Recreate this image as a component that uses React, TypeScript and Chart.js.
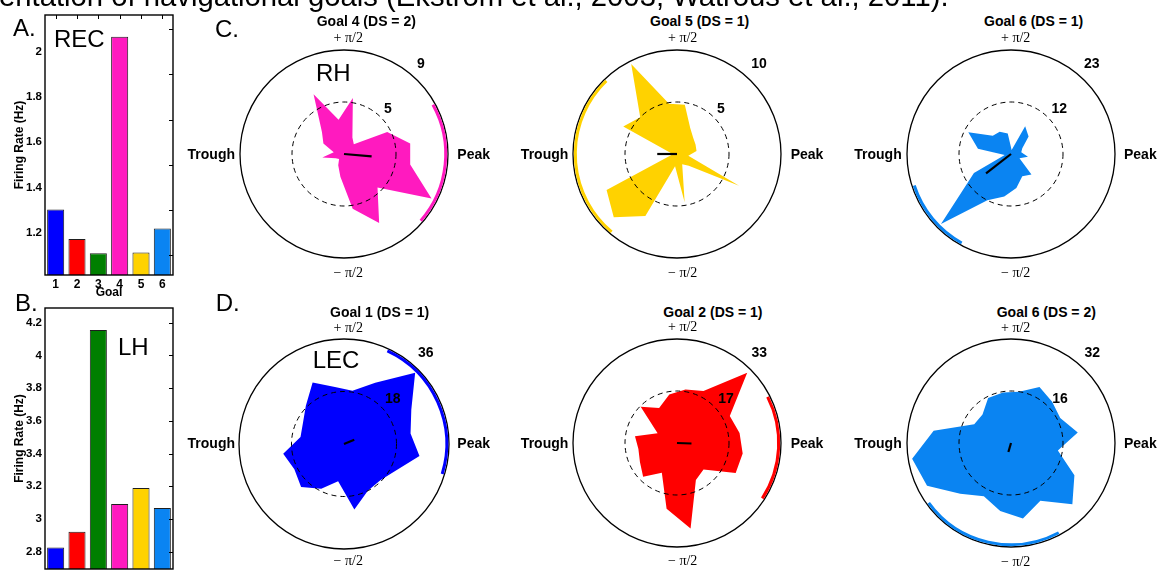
import React, { useEffect, useRef } from "react";
import { Chart, registerables } from "chart.js";

Chart.register(...registerables);

// ---- Bar panels: mean firing rate per goal ----
const goals = ["1", "2", "3", "4", "5", "6"];
const goalColors = ["#0000ff", "#ff0000", "#007f00", "#ff1abf", "#ffd200", "#0a84f2"];
const recRates = [1.303, 1.172, 1.109, 2.066, 1.112, 1.218];
const lhRates = [2.826, 2.922, 4.155, 3.091, 3.189, 3.067];
const recTicks = [1.2, 1.4, 1.6, 1.8, 2.0];
const recRightTicks = [1.1, 1.3, 1.5, 1.7, 1.9, 2.1];
const lhTicks = [2.8, 3.0, 3.2, 3.4, 3.6, 3.8, 4.0, 4.2];

// ---- Phase roses: spike counts per theta-phase bin (bin centres, degrees) ----
const phaseBins = [9, 27, 45, 63, 81, 99, 117, 135, 153, 171, 189, 207, 225, 243, 261, 279, 297, 315, 333, 351];
const rhGoal4 = [5.8, 4.2, 1.2, 1.6, 4.9, 3.0, 5.8, 2.7, 2.0, 0.9, 1.9, 0.8, 0.6, 1.1, 2.0, 4.8, 6.7, 4.1, 8.5, 5.8];
const rhGoal5 = [1.9, 2.0, 2.2, 2.8, 4.8, 4.9, 9.7, 5.0, 5.8, 0.6, 0.5, 7.6, 8.6, 6.7, 1.2, 4.7, 1.1, 1.6, 6.7, 1.1];
const rhGoal6 = [2.3, 2.8, 5.5, 6.9, 0.9, 4.6, 5.5, 5.7, 10.6, 7.4, 1.4, 9.2, 21.9, 11.5, 9.5, 7.6, 5.5, 6.4, 2.1, 3.8];
const lecGoal1 = [23.1, 25.9, 34.5, 23.6, 18.5, 19.8, 23.7, 18.5, 15.8, 15.1, 21.1, 19.1, 20.8, 17.2, 12.9, 22.7, 18.0, 17.6, 20.0, 26.2];
const lecGoal2 = [20.1, 18.8, 31.5, 18.5, 17.2, 15.6, 12.5, 16.3, 6.9, 13.5, 12.4, 13.2, 15.2, 10.6, 21.1, 27.5, 13.2, 11.9, 20.9, 21.1];
const lecGoal6 = [20.8, 17.0, 17.9, 19.3, 16.0, 15.7, 15.5, 12.4, 12.7, 24.1, 30.8, 29.0, 22.1, 18.4, 21.2, 23.5, 19.9, 26.7, 21.9, 14.6];
const roseMax = [9, 10, 23, 36, 33, 32];
const meanPhaseDeg = [-5, 180, 218, 22, -2, 254];
const meanLength = [2.4, 1.9, 7.0, 3.8, 4.6, 2.9];
const sigArcStart = [-41, 134, 198, -17, -33, 216];
const sigArcEnd = [29, 230, 241, 65, 27, 298];

const SANS = '"Liberation Sans", Arial, Helvetica, sans-serif';
const SERIF = '"Liberation Serif", "Times New Roman", serif';
const DEG = Math.PI / 180;

const framePlugin = {
  id: "frame",
  afterDraw(chart: any, _args: any, opts: any) {
    const { ctx, chartArea: a } = chart;
    const y = chart.scales.y;
    const x = chart.scales.x;
    ctx.save();
    ctx.strokeStyle = "#000";
    ctx.lineWidth = 1.4;
    ctx.strokeRect(a.left, a.top, a.right - a.left, a.bottom - a.top);
    ctx.lineWidth = 1;
    ctx.beginPath();
    (opts.right || []).forEach((v: number) => {
      const py = Math.round(y.getPixelForValue(v)) + 0.5;
      ctx.moveTo(a.right, py);
      ctx.lineTo(a.right - 4, py);
    });
    if (opts.top) {
      chart.data.labels.forEach((_l: string, i: number) => {
        const px = Math.round(x.getPixelForValue(i)) + 0.5;
        ctx.moveTo(px, a.top);
        ctx.lineTo(px, a.top + 4);
      });
    }
    ctx.stroke();
    ctx.restore();
  },
};

const rosePlugin = {
  id: "rose",
  afterDatasetsDraw(chart: any, _args: any, o: any) {
    const { ctx } = chart;
    const r = chart.scales.r;
    const cx = r.xCenter;
    const cy = r.yCenter;
    const R = r.getDistanceFromCenterForValue(r.max);
    ctx.save();
    ctx.strokeStyle = "#000";
    ctx.lineWidth = 1;
    ctx.setLineDash([5, 4]);
    ctx.beginPath();
    ctx.arc(cx, cy, r.getDistanceFromCenterForValue(r.max / 2), 0, Math.PI * 2);
    ctx.stroke();
    ctx.setLineDash([]);
    ctx.lineWidth = 1.3;
    ctx.beginPath();
    ctx.arc(cx, cy, R, 0, Math.PI * 2);
    ctx.stroke();
    ctx.strokeStyle = o.color;
    ctx.lineWidth = 3;
    ctx.beginPath();
    ctx.arc(cx, cy, R - 2.3, -o.arcEnd * DEG, -o.arcStart * DEG);
    ctx.stroke();
    const len = r.getDistanceFromCenterForValue(o.meanLen);
    const ang = -o.meanDeg * DEG;
    ctx.strokeStyle = "#000";
    ctx.lineWidth = 2.2;
    ctx.beginPath();
    ctx.moveTo(cx, cy);
    ctx.lineTo(cx + len * Math.cos(ang), cy + len * Math.sin(ang));
    ctx.stroke();
    ctx.restore();
  },
};

const tickText = (v: number) => String(Number(v.toFixed(2)));

function RateBars(props: {
  left: number; top: number; width: number; height: number; padTop: number; plotBottom: number;
  values: number[]; min: number; max: number; ticks: number[]; rightTicks: number[]; topTicks: boolean;
}) {
  const ref = useRef<HTMLCanvasElement>(null);
  useEffect(() => {
    const p = props;
    const chart = new Chart(ref.current as HTMLCanvasElement, {
      type: "bar",
      data: {
        labels: goals,
        datasets: [{
          data: p.values,
          backgroundColor: goalColors,
          borderColor: "#1e1e1e",
          borderWidth: 1,
          barPercentage: 0.8,
          categoryPercentage: 1,
        }],
      },
      options: {
        responsive: false,
        animation: false,
        devicePixelRatio: 1,
        layout: { padding: { top: p.padTop, right: p.width - 173, left: 0, bottom: 0 } },
        plugins: {
          legend: { display: false },
          tooltip: { enabled: false },
          frame: { right: p.rightTicks, top: p.topTicks },
        } as any,
        scales: {
          x: {
            grid: { display: false, drawTicks: false },
            border: { display: false },
            ticks: { color: "#000", padding: 2, font: { family: SANS, size: 12, weight: "bold" } },
            title: { display: true, text: "Goal", color: "#000", padding: 0, font: { family: SANS, size: 12, weight: "bold" } },
            afterFit: (s: any) => { s.height = p.height - p.plotBottom; },
          },
          y: {
            min: p.min,
            max: p.max,
            afterBuildTicks: (s: any) => { s.ticks = p.ticks.map((v) => ({ value: v })); },
            grid: { display: false, drawTicks: false },
            border: { display: false },
            ticks: { color: "#000", padding: 3, font: { family: SANS, size: 11.5, weight: "bold" }, callback: (v: any) => tickText(Number(v)) },
            title: { display: true, text: "Firing Rate (Hz)", color: "#000", padding: { top: 12, bottom: 0 }, font: { family: SANS, size: 12, weight: "bold" } },
            afterFit: (s: any) => { s.width = 45; },
          },
        } as any,
      },
      plugins: [framePlugin],
    });
    return () => chart.destroy();
  }, []);
  return (
    <canvas ref={ref} width={props.width} height={props.height}
      style={{ position: "absolute", left: props.left, top: props.top, width: props.width, height: props.height }} />
  );
}

const toRadarOrder = <T,>(bins: T[]) => bins.map((_, m) => bins[(bins.length - m) % bins.length]);

function PhaseRose(props: {
  cx: number; cy: number; radius: number; counts: number[]; max: number; color: string;
  arcStart: number; arcEnd: number; meanDeg: number; meanLen: number;
}) {
  const ref = useRef<HTMLCanvasElement>(null);
  const size = 240;
  useEffect(() => {
    const p = props;
    const chart = new Chart(ref.current as HTMLCanvasElement, {
      type: "radar",
      data: {
        labels: toRadarOrder(phaseBins.map(String)),
        datasets: [{
          data: toRadarOrder(p.counts),
          backgroundColor: p.color,
          borderColor: "rgba(0,0,0,0)",
          borderWidth: 0,
          pointRadius: 0,
          fill: "origin",
        }],
      },
      options: {
        responsive: false,
        animation: false,
        devicePixelRatio: 1,
        layout: { padding: size / 2 - p.radius },
        plugins: {
          legend: { display: false },
          tooltip: { enabled: false },
          rose: { color: p.color, arcStart: p.arcStart, arcEnd: p.arcEnd, meanDeg: p.meanDeg, meanLen: p.meanLen },
        } as any,
        scales: {
          r: {
            min: 0,
            max: p.max,
            startAngle: 81,
            ticks: { display: false },
            grid: { display: false },
            angleLines: { display: false },
            pointLabels: { display: false },
          },
        } as any,
      },
      plugins: [rosePlugin],
    });
    return () => chart.destroy();
  }, []);
  return (
    <canvas ref={ref} width={size} height={size}
      style={{ position: "absolute", left: props.cx - size / 2, top: props.cy - size / 2, width: size, height: size }} />
  );
}

type Txt = { text: string; x: number; y: number; size: number; bold?: boolean; serif?: boolean; anchor?: "start" | "middle" | "end" };

function Label({ text, x, y, size, bold, serif, anchor = "middle" }: Txt) {
  const tx = anchor === "start" ? "0" : anchor === "end" ? "-100%" : "-50%";
  return (
    <div style={{
      position: "absolute", left: x, top: y, transform: `translate(${tx}, -50%)`,
      fontFamily: serif ? SERIF : SANS, fontSize: size, fontWeight: bold ? 700 : 400,
      lineHeight: 1, whiteSpace: "nowrap", color: "#000",
    }}>{text}</div>
  );
}

const roses = [
  { cx: 344, cy: 154, radius: 104, counts: rhGoal4, color: goalColors[3] },
  { cx: 677, cy: 154, radius: 104, counts: rhGoal5, color: goalColors[4] },
  { cx: 1011, cy: 154, radius: 104, counts: rhGoal6, color: goalColors[5] },
  { cx: 344, cy: 444, radius: 105, counts: lecGoal1, color: goalColors[0] },
  { cx: 677, cy: 443, radius: 104, counts: lecGoal2, color: goalColors[1] },
  { cx: 1011, cy: 443, radius: 104, counts: lecGoal6, color: goalColors[5] },
];

const roseTitles = ["Goal 4 (DS = 2)", "Goal 5  (DS = 1)", "Goal 6  (DS = 1)", "Goal 1 (DS = 1)", "Goal 2 (DS = 1)", "Goal 6  (DS = 2)"];
const titleLeft = [316.7, 650, 984, 330, 663.3, 996.7];
const titleY = [20.7, 20.7, 20.7, 311.7, 311.7, 311.7];
const piX = [348.3, 682.7, 1015.7, 348.3, 682.7, 1015.7];
const plusPiY = [37.7, 37.7, 37.7, 328.3, 327, 328.3];
const minusPiY = [273.3, 273, 273, 561, 561, 561.7];
const troughRight = [235, 568.3, 901.7, 235, 568.3, 901.7];
const peakLeft = [457.3, 790.7, 1124, 457.3, 790.7, 1124];
const sideY = [154, 154, 154, 443.3, 443.3, 443.3];
const outerTickText = ["9", "10", "23", "36", "33", "32"];
const innerTickText = ["5", "5", "12", "18", "17", "16"];
const outerTickPos = [[421, 62.7], [759, 63], [1091.7, 63], [425.7, 351.7], [759.3, 351.7], [1092.3, 352]];
const innerTickPos = [[388, 108], [721, 108], [1059.3, 108], [392.7, 397.7], [726, 397.7], [1060, 398]];

const texts: Txt[] = [
  { text: "entation of navigational goals (Ekstrom et al., 2003; Watrous et al., 2011).", x: -1, y: -3.5, size: 29.25, anchor: "start" },
  { text: "A.", x: 13, y: 28, size: 24, anchor: "start" },
  { text: "B.", x: 15, y: 302.5, size: 24, anchor: "start" },
  { text: "C.", x: 215, y: 29, size: 24, anchor: "start" },
  { text: "D.", x: 215.7, y: 302.5, size: 24, anchor: "start" },
  { text: "REC", x: 54, y: 39, size: 24, anchor: "start" },
  { text: "LH", x: 118, y: 347, size: 24, anchor: "start" },
  { text: "RH", x: 316, y: 73.3, size: 24, anchor: "start" },
  { text: "LEC", x: 312.7, y: 360, size: 24, anchor: "start" },
];

roses.forEach((_r, i) => {
  texts.push({ text: roseTitles[i], x: titleLeft[i], y: titleY[i], size: 14, bold: true, anchor: "start" });
  texts.push({ text: "+ \u03c0/2", x: piX[i], y: plusPiY[i], size: 14, serif: true });
  texts.push({ text: "\u2212 \u03c0/2", x: piX[i], y: minusPiY[i], size: 14, serif: true });
  texts.push({ text: "Trough", x: troughRight[i], y: sideY[i], size: 14, bold: true, anchor: "end" });
  texts.push({ text: "Peak", x: peakLeft[i], y: sideY[i], size: 14, bold: true, anchor: "start" });
  texts.push({ text: outerTickText[i], x: outerTickPos[i][0], y: outerTickPos[i][1], size: 14, bold: true });
  texts.push({ text: innerTickText[i], x: innerTickPos[i][0], y: innerTickPos[i][1], size: 14, bold: true });
});

export default function App() {
  return (
    <div style={{ position: "fixed", left: 0, top: 0, width: 1168, height: 570, overflow: "hidden", background: "#fff" }}>
      <RateBars left={0} top={0} width={180} height={300} padTop={15} plotBottom={275}
        values={recRates} min={1.013} max={2.162} ticks={recTicks} rightTicks={recRightTicks} topTicks={true} />
      <RateBars left={0} top={285} width={180} height={310} padTop={23} plotBottom={284}
        values={lhRates} min={2.694} max={4.29} ticks={lhTicks} rightTicks={lhTicks} topTicks={false} />
      {roses.map((r, i) => (
        <PhaseRose key={i} cx={r.cx} cy={r.cy} radius={r.radius} counts={r.counts} max={roseMax[i]} color={r.color}
          arcStart={sigArcStart[i]} arcEnd={sigArcEnd[i]} meanDeg={meanPhaseDeg[i]} meanLen={meanLength[i]} />
      ))}
      {texts.map((t, i) => <Label key={i} {...t} />)}
    </div>
  );
}
